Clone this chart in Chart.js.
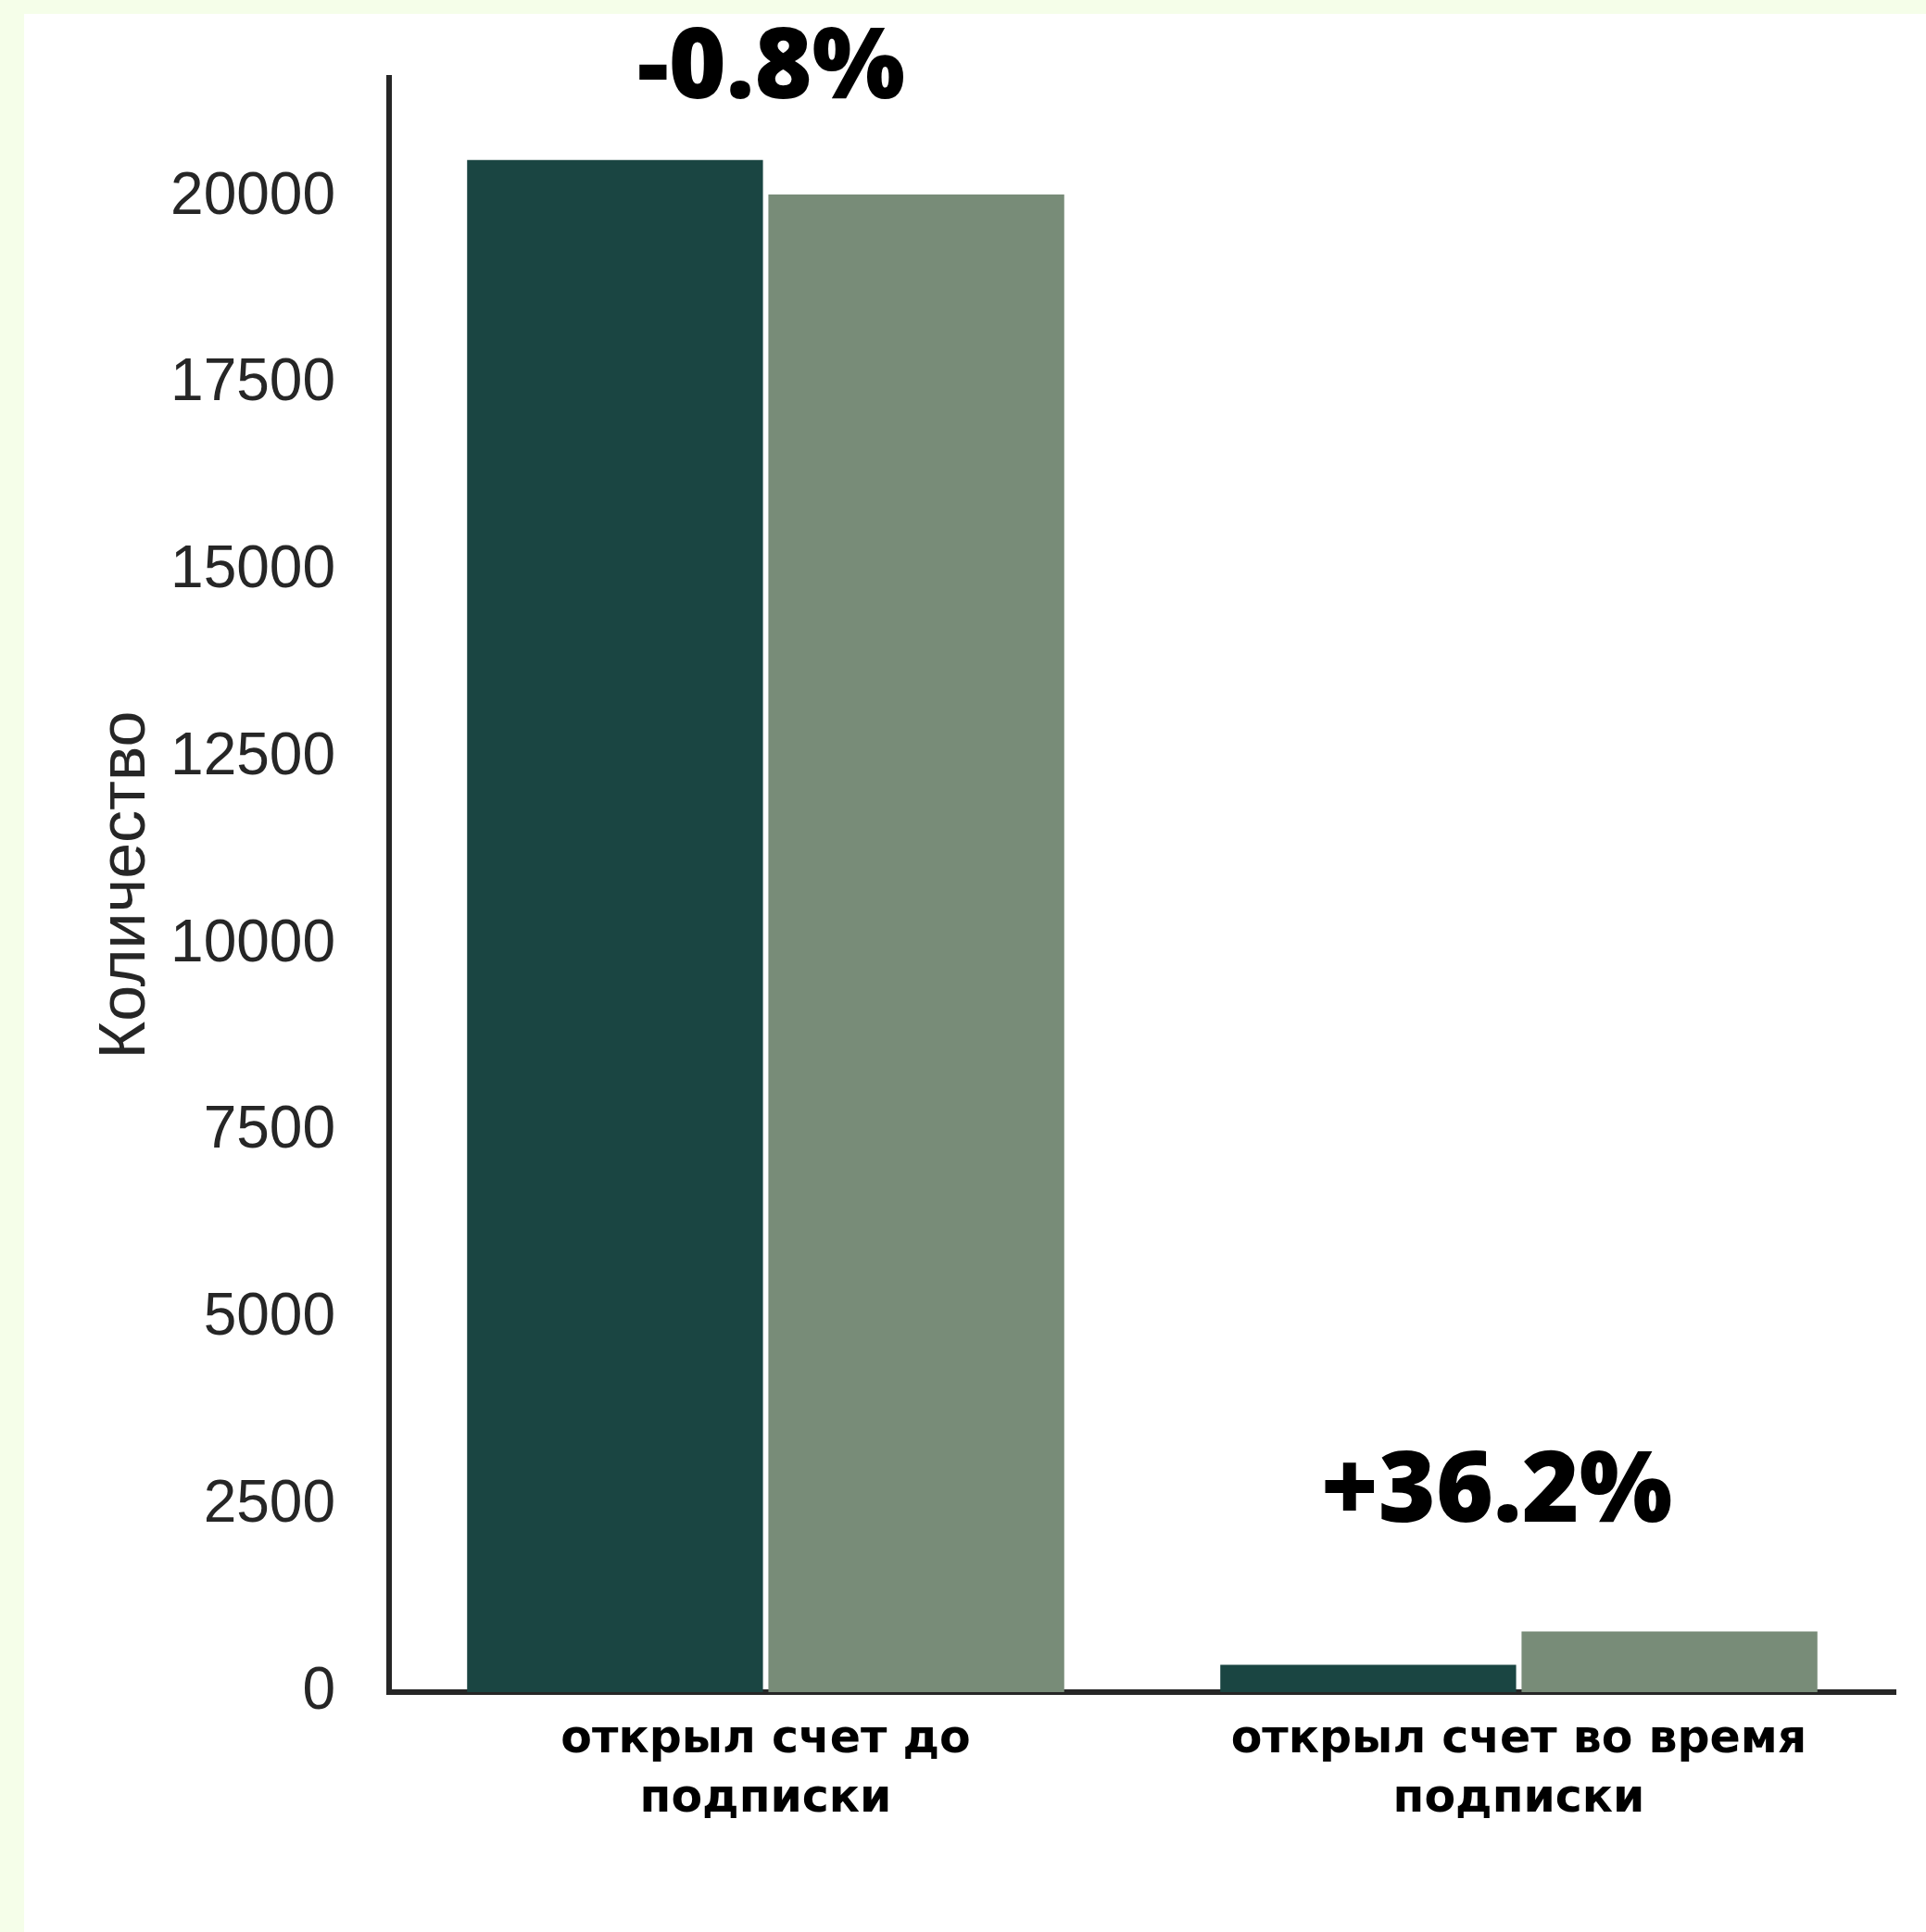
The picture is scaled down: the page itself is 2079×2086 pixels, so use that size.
<!DOCTYPE html>
<html lang="ru">
<head>
<meta charset="utf-8">
<title>Количество открытых счетов</title>
<script src="https://cdn.jsdelivr.net/npm/chart.js@4/dist/chart.umd.min.js"></script>
<style>
  html, body { margin: 0; padding: 0; }
  body { width: 2079px; height: 2086px; background: #f5fee9; position: relative; overflow: hidden; }
  #panel { position: absolute; left: 26px; top: 15px; width: 2053px; height: 2071px; background: #ffffff; }
  #chart { display: block; }
</style>
</head>
<body>
<div id="panel"><canvas id="chart" width="2053" height="2071"></canvas></div>
<script>
// Categories (x axis), two lines each
const categories = [
  ['открыл счет до', 'подписки'],
  ['открыл счет во время', 'подписки']
];

// Counts per category for the two compared periods
const periodBefore = [20500, 366];
const periodAfter  = [20040, 812];

// Change labels shown above each group
const changeLabels = ['-0.8%', '+36.2%'];

// Y axis ticks
const yTickValues = [0, 2500, 5000, 7500, 10000, 12500, 15000, 17500, 20000];
const yMax = 21600;

const axisColor = '#262626';
const darkGreen = '#1a4542';
const sageGreen = '#788c78';

// Bold change labels above each category group
const changeLabelPlugin = {
  id: 'changeLabels',
  afterDraw(chart, args, opts) {
    const { ctx, scales: { x, y } } = chart;
    ctx.save();
    ctx.fillStyle = '#000000';
    ctx.font = opts.font;
    ctx.textAlign = 'center';
    ctx.textBaseline = 'alphabetic';
    opts.labels.forEach((text, i) => {
      const px = x.getPixelForValue(i) + opts.dx[i];
      const py = y.getPixelForValue(opts.baseline[i]);
      ctx.fillText(text, px, py);
    });
    ctx.restore();
  }
};

new Chart(document.getElementById('chart'), {
  type: 'bar',
  data: {
    labels: categories,
    datasets: [
      {
        label: 'до',
        data: periodBefore,
        backgroundColor: darkGreen,
        borderWidth: 0,
        categoryPercentage: 0.8,
        barPercentage: 0.982
      },
      {
        label: 'после',
        data: periodAfter,
        backgroundColor: sageGreen,
        borderWidth: 0,
        categoryPercentage: 0.8,
        barPercentage: 0.982
      }
    ]
  },
  options: {
    responsive: false,
    animation: false,
    events: [],
    layout: { padding: { top: 69, right: 33, bottom: 0, left: 0 } },
    plugins: {
      legend: { display: false },
      tooltip: { enabled: false },
      changeLabels: {
        labels: changeLabels,
        font: '800 106px "Open Sans", "Liberation Sans", sans-serif',
        dx: [6, -24],
        baseline: [21330, 2275]
      }
    },
    scales: {
      x: {
        z: 1,
        grid: { display: false, drawTicks: false },
        border: { display: true, color: axisColor, width: 6 },
        ticks: {
          color: '#000000',
          padding: 20,
          font: { family: '"DejaVu Sans", "Open Sans", sans-serif', size: 49, weight: 'bold', lineHeight: 1.306 }
        },
        afterFit(scale) {
          scale.height = 259;
          scale.paddingLeft = 0;
          scale.paddingRight = 0;
        }
      },
      y: {
        min: 0,
        max: yMax,
        z: 1,
        grid: { display: false, drawTicks: false },
        border: { display: true, color: axisColor, width: 6 },
        afterBuildTicks(scale) { scale.ticks = yTickValues.map(v => ({ value: v })); },
        afterFit(scale) {
          scale.width = 394;
          scale.paddingTop = 0;
          scale.paddingBottom = 0;
        },
        ticks: {
          color: axisColor,
          padding: 58,
          font: { family: '"Liberation Sans", Arial, sans-serif', size: 64 },
          callback: (value) => String(value)
        },
        title: {
          display: true,
          text: 'Количество',
          color: axisColor,
          padding: { top: 69, bottom: 0 },
          font: { family: '"Liberation Sans", Arial, sans-serif', size: 70 }
        }
      }
    }
  },
  plugins: [changeLabelPlugin]
});
</script>
</body>
</html>
